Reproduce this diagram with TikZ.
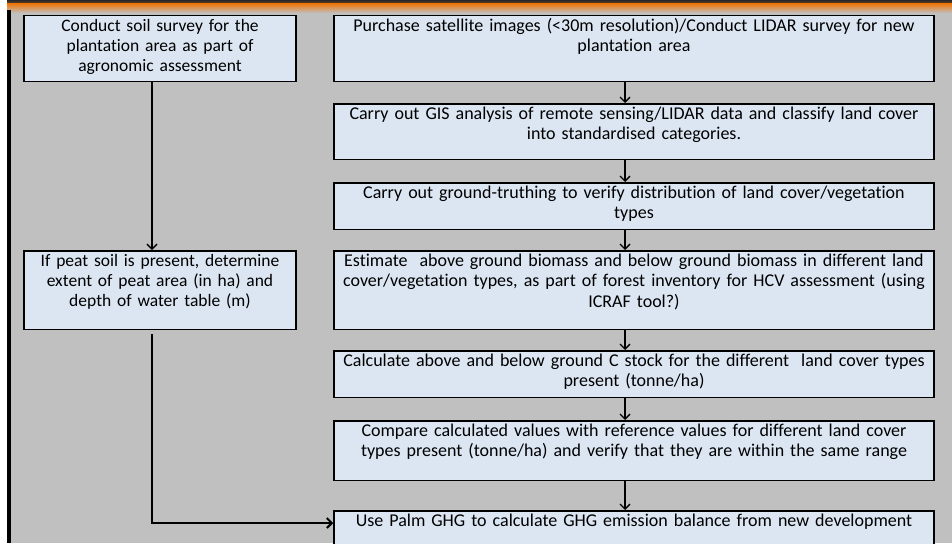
\documentclass[tikz,border=0pt]{standalone}
\usepackage{fontspec}
\setmainfont{Carlito}[Ligatures=NoCommon]
\usetikzlibrary{positioning, arrows.meta}
\definecolor{boxblue}{RGB}{220,230,242}
\definecolor{slidegrey}{RGB}{192,192,192}
\definecolor{barorange}{RGB}{236,122,18}
\definecolor{bardark}{RGB}{40,40,40}

\tikzset{
    stage/.style={draw, line width=1.5pt, fill=boxblue, inner xsep=2pt, inner ysep=4pt,
        align=center, text height=11.5pt},
    wide/.style={stage, text width=596pt, font=\fontsize{18}{20.5}\selectfont},
    narrow/.style={stage, text width=268pt, font=\fontsize{17.5}{20}\selectfont},
    flow/.style={-{Straight Barb[length=5pt, width=10pt]}, line width=1.3pt},
}

\begin{document}
\begin{tikzpicture}[x=1pt, y=-1pt]
    \useasboundingbox (0,0) rectangle (952,543);
    % slide background
    \fill[slidegrey] (10,0) rectangle (952,543);
    \shade[top color=bardark, bottom color=bardark!60!barorange] (7,0) rectangle (952,4);
    \shade[top color=barorange, bottom color=slidegrey] (7,4) rectangle (952,13);
    \fill[black] (7,10) rectangle (11,543);
    %
    \node [wide, text depth=46pt] at (634,48.5) (sat)
        {Purchase satellite images (<30m resolution)/Conduct LIDAR survey for new\\ plantation area};
    \node [wide, below of=sat, node distance=83pt, text depth=36pt] (gis)
        {Carry out GIS analysis of remote sensing/LIDAR data and classify land cover\\ into standardised categories.};
    \node [wide, below of=gis, node distance=74.5pt, text depth=27pt] (truth)
        {Carry out ground-truthing to verify distribution of land cover/vegetation\\ types};
    \node [wide, below of=truth, node distance=84pt, text depth=59pt] (biomass)
        {Estimate\ \ above ground biomass and below ground biomass in different land\\ cover/vegetation types, as part of forest inventory for HCV assessment (using\\ ICRAF tool?)};
    \node [wide, below of=biomass, node distance=84pt, text depth=27pt] (cstock)
        {Calculate above and below ground C stock for the different\ \ land cover types\\ present (tonne/ha)};
    \node [wide, below of=cstock, node distance=76.5pt, text depth=40pt] (compare)
        {Compare calculated values with reference values for different land cover\\ types present (tonne/ha) and verify that they are within the same range};
    \node [wide, below of=compare, node distance=83.5pt, text depth=27pt] (palm)
        {Use Palm GHG to calculate GHG emission balance from new development};
    %
    \node [narrow, text depth=46pt] at (160,48.5) (soil)
        {Conduct soil survey for the\\ plantation area as part of\\ agronomic assessment};
    \node [narrow, below of=soil, node distance=241.5pt, text depth=59pt] (peat)
        {If peat soil is present, determine\\ extent of peat area (in ha) and\\ depth of water table (m)};
    %
    \draw [flow] ([xshift=-9pt]sat.south) -- ([xshift=-9pt]gis.north);
    \draw [flow] ([xshift=-9pt]gis.south) -- ([xshift=-9pt]truth.north);
    \draw [flow] ([xshift=-9pt]truth.south) -- ([xshift=-9pt]biomass.north);
    \draw [flow] ([xshift=-9pt]biomass.south) -- ([xshift=-9pt]cstock.north);
    \draw [flow] ([xshift=-9pt]cstock.south) -- ([xshift=-9pt]compare.north);
    \draw [flow] ([xshift=-9pt]compare.south) -- ([xshift=-9pt]palm.north);
    \draw [flow] ([xshift=-8pt]soil.south) -- ([xshift=-8pt]peat.north);
    \draw [flow, line width=2pt, shorten <=4pt] ([xshift=-8pt]peat.south) |- ([yshift=11pt]palm.west);
\end{tikzpicture}
\end{document}
